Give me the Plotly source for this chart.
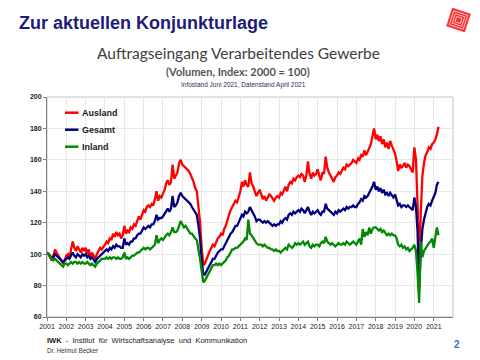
import math
import pandas as pd
import plotly.graph_objects as go

# ---- data (monthly, Jan 2001 .. Apr 2021), index 2000 = 100 ----
ausland = [
    101, 100, 98, 96, 99, 103, 101, 99, 97, 95, 94, 96,          # 2001
    99, 100, 98, 103, 108, 104, 102, 105, 103, 101, 104, 102,     # 2002
    104, 100, 103, 98, 101, 99, 97, 100, 102, 104, 103, 105,      # 2003
    106, 108, 107, 110, 109, 113, 111, 114, 112, 113, 110, 112,   # 2004
    118, 113, 115, 114, 117, 116, 119, 118, 121, 124, 122, 125,   # 2005
    128, 127, 130, 131, 130, 132, 131, 135, 140, 134, 137, 136,   # 2006
    138, 141, 145, 147, 144, 146, 157, 148, 150, 152, 158, 160,   # 2007
    157, 156, 155, 154, 153, 151, 149, 146, 142, 140, 130, 120,   # 2008
    104, 93, 94, 97, 99, 102, 104, 106, 105, 108, 110, 111,       # 2009
    113, 112, 116, 118, 122, 125, 128, 130, 132, 134, 133, 136,   # 2010
    140, 146, 143, 147, 144, 143, 152, 145, 143, 140, 137, 139,   # 2011
    141, 138, 135, 137, 134, 136, 138, 137, 135, 134, 136, 137,   # 2012
    136, 139, 138, 141, 143, 140, 144, 146, 145, 148, 147, 149,   # 2013
    150, 149, 151, 150, 146, 150, 159, 151, 148, 152, 150, 151,   # 2014
    154, 150, 147, 152, 151, 162, 155, 152, 150, 148, 146, 149,   # 2015
    150, 152, 151, 153, 155, 154, 157, 156, 157, 158, 160, 159,   # 2016
    158, 161, 160, 163, 162, 166, 163, 165, 168, 170, 175, 180,   # 2017
    173, 176, 172, 175, 170, 173, 168, 171, 167, 172, 169, 166,   # 2018
    164, 159, 153, 157, 155, 156, 158, 155, 157, 156, 154, 152,   # 2019
    168, 160, 132, 92, 126, 150, 158, 163, 165, 168, 167, 170,    # 2020
    171, 173, 176, 181,                                           # 2021
]
gesamt = [
    101, 100, 99, 97, 98, 100, 99, 98, 97, 96, 95, 96,
    97, 98, 97, 99, 101, 99, 98, 100, 99, 98, 100, 99,
    100, 98, 99, 97, 98, 96, 95, 97, 98, 99, 100, 101,
    102, 103, 102, 104, 103, 105, 104, 106, 105, 105, 104, 104,
    110, 106, 107, 106, 108, 108, 110, 110, 112, 113, 113, 115,
    117, 116, 117, 118, 117, 119, 119, 121, 125, 122, 123, 123,
    124, 126, 128, 129, 127, 129, 137, 130, 131, 133, 137, 139,
    137, 136, 135, 134, 133, 132, 130, 128, 126, 125, 118, 110,
    96, 87, 87, 89, 91, 93, 95, 97, 97, 99, 101, 102,
    103, 103, 105, 107, 109, 111, 113, 114, 116, 118, 118, 120,
    122, 125, 124, 127, 126, 127, 130, 128, 125, 124, 121, 122,
    122, 121, 120, 121, 120, 121, 120, 119, 118, 119, 118, 119,
    119, 121, 120, 122, 123, 122, 125, 126, 125, 127, 126, 127,
    128, 127, 129, 128, 126, 128, 130, 127, 125, 127, 126, 127,
    128, 126, 125, 127, 127, 132, 129, 128, 127, 126, 125, 127,
    126, 128, 127, 128, 129, 128, 130, 129, 130, 130, 131, 130,
    130, 132, 133, 135, 134, 137, 136, 137, 139, 140, 143, 146,
    141, 143, 140, 142, 139, 141, 138, 139, 137, 139, 137, 136,
    138, 135, 131, 132, 130, 131, 131, 130, 131, 130, 129, 128,
    136, 130, 115, 78, 102, 116, 122, 127, 130, 132, 131, 134,
    136, 139, 144, 146,
]
inland = [
    101, 100, 98, 97, 96, 97, 96, 95, 94, 93, 92, 94,
    94, 93, 94, 95, 94, 95, 95, 94, 95, 94, 95, 94,
    94, 95, 94, 93, 94, 93, 92, 94, 95, 96, 97, 97,
    97, 98, 97, 98, 97, 98, 98, 97, 98, 97, 97, 98,
    101, 97, 98, 97, 98, 99, 99, 100, 101, 101, 102, 103,
    104, 103, 104, 104, 103, 104, 105, 106, 112, 107, 109, 110,
    109, 111, 112, 113, 112, 114, 117, 114, 114, 115, 119, 121,
    119, 117, 118, 116, 115, 113, 113, 111, 110, 109, 104, 97,
    89, 82, 83, 85, 87, 89, 91, 93, 93, 94, 93, 94,
    93, 94, 95, 96, 98, 99, 101, 103, 103, 104, 104, 105,
    106, 107, 108, 110, 109, 122, 113, 112, 110, 109, 107, 106,
    106, 106, 105, 106, 105, 104, 104, 103, 103, 102, 103, 102,
    102, 101, 102, 103, 104, 103, 106, 105, 104, 105, 107, 106,
    107, 106, 107, 108, 106, 107, 108, 105, 104, 106, 105, 106,
    106, 105, 107, 108, 107, 111, 108, 107, 106, 107, 106, 105,
    106, 107, 106, 106, 107, 106, 108, 107, 106, 107, 108, 107,
    106, 108, 110, 106, 116, 111, 114, 112, 117, 113, 116, 117,
    117, 116, 115, 116, 114, 115, 113, 112, 113, 112, 113, 112,
    112, 110, 106, 105, 106, 104, 105, 103, 104, 102, 103, 104,
    106, 102, 88, 69, 108, 98, 102, 104, 106, 107, 108, 110,
    104, 110, 117, 112,
]
series_names = ["Ausland", "Gesamt", "Inland"]
series_colors = ["#ff0000", "#00007f", "#008a00"]
y_ticks = [60, 80, 100, 120, 140, 160, 180, 200]

months = pd.date_range("2001-01-01", periods=len(ausland), freq="MS")

W, H = 480, 360
ML, MR, MT, MB = 47, 27, 97, 43
PW, PH = W - ML - MR, H - MT - MB


def px(x):
    return (x - ML) / PW


def py(y):
    return 1 - (y - MT) / PH


fig = go.Figure()
for name, vals, col in zip(series_names, [ausland, gesamt, inland], series_colors):
    fig.add_trace(go.Scatter(x=months, y=vals, mode="lines", name=name,
                             line=dict(color=col, width=2.3), showlegend=False))

shapes = []
annotations = []

# plot frame (light top/right)
shapes.append(dict(type="rect", xref="paper", yref="paper", x0=0, x1=1, y0=0, y1=1,
                   line=dict(color="#c4c4c4", width=1), layer="below"))

# manual legend
for i, (name, col) in enumerate(zip(series_names, series_colors)):
    yy = py(112.7 + i * 17)
    shapes.append(dict(type="line", xref="paper", yref="paper", x0=px(65), x1=px(78.5),
                       y0=yy, y1=yy, line=dict(color=col, width=2.5)))
    annotations.append(dict(text="<b>%s</b>" % name, xref="paper", yref="paper",
                            x=px(80), y=yy, xanchor="left", yanchor="middle", showarrow=False,
                            font=dict(family="Liberation Sans, Arial", size=9, color="#1a1a1a")))

# logo (rotated red square maze-like)
cx, cy, half, ang = 458.5, 20, 9.5, math.radians(18)


def rot_sq(h):
    pts = []
    for dx, dy in [(-h, -h), (h, -h), (h, h), (-h, h)]:
        x = cx + dx * math.cos(ang) - dy * math.sin(ang)
        y = cy + dx * math.sin(ang) + dy * math.cos(ang)
        pts.append((px(x), py(y)))
    return "M " + " L ".join("%f,%f" % p for p in pts) + " Z"


shapes.append(dict(type="path", xref="paper", yref="paper", path=rot_sq(half),
                   fillcolor="#ff2a2a", line=dict(color="#ff2a2a", width=0.5)))
for h in [7.3, 5.0, 2.8]:
    shapes.append(dict(type="path", xref="paper", yref="paper", path=rot_sq(h),
                       line=dict(color="rgba(255,255,255,0.85)", width=0.9)))

# titles
annotations += [
    dict(text="<b>Zur aktuellen Konjunkturlage</b>", xref="paper", yref="paper",
         x=px(17), y=py(23), xanchor="left", yanchor="middle", showarrow=False,
         font=dict(family="Liberation Sans, Arial", size=18, color="#1c1c78")),
    dict(text="Auftragseingang Verarbeitendes Gewerbe", xref="paper", yref="paper",
         x=px(238), y=py(53.5), xanchor="center", yanchor="middle", showarrow=False,
         font=dict(family="Lato", size=15.5, color="#404040")),
    dict(text="<b>(Volumen, Index: 2000 = 100)</b>", xref="paper", yref="paper",
         x=px(238), y=py(71), xanchor="center", yanchor="middle", showarrow=False,
         font=dict(family="Lato", size=11, color="#555555")),
    dict(text="Infostand Juni 2021, Datenstand April 2021", xref="paper", yref="paper",
         x=px(243), y=py(85), xanchor="center", yanchor="middle", showarrow=False,
         font=dict(family="Liberation Sans, Arial", size=6.5, color="#1f2f5f")),
    dict(text="<b>IWK</b>  -  Institut  für  Wirtschaftsanalyse  und  Kommunikation",
         xref="paper", yref="paper", x=px(44.5), y=py(340.5), xanchor="left", yanchor="middle",
         showarrow=False, font=dict(family="Liberation Sans, Arial", size=7.5, color="#1a1a1a")),
    dict(text="Dr. Helmut Becker", xref="paper", yref="paper", x=px(44.5), y=py(350),
         xanchor="left", yanchor="middle", showarrow=False,
         font=dict(family="Liberation Sans, Arial", size=6.3, color="#333333")),
    dict(text="<b>2</b>", xref="paper", yref="paper", x=px(457), y=py(344),
         xanchor="center", yanchor="middle", showarrow=False,
         font=dict(family="Liberation Sans, Arial", size=10, color="#2e74c0")),
]

fig.update_layout(
    width=W, height=H,
    margin=dict(l=ML, r=MR, t=MT, b=MB, pad=0),
    paper_bgcolor="white", plot_bgcolor="white",
    shapes=shapes, annotations=annotations, showlegend=False,
    xaxis=dict(type="date", range=["2001-01-01", "2021-12-31"], dtick="M12",
               tick0="2001-01-01", tickformat="%Y", showgrid=True, gridcolor="#e8e8e8",
               gridwidth=1, showline=True, linecolor="#7f7f7f", linewidth=1,
               ticks="outside", ticklen=3, tickcolor="#7f7f7f",
               tickfont=dict(family="Liberation Sans, Arial", size=7, color="#1a1a1a"),
               zeroline=False, fixedrange=True),
    yaxis=dict(range=[60, 200], tickvals=y_ticks, ticktext=["<b>%d</b>" % v for v in y_ticks],
               showgrid=True, gridcolor="#e8e8e8", gridwidth=1,
               showline=True, linecolor="#7f7f7f", linewidth=1,
               ticks="outside", ticklen=3, tickcolor="#7f7f7f",
               tickfont=dict(family="Liberation Sans, Arial", size=7, color="#1a1a1a"),
               zeroline=False, fixedrange=True),
)

fig.write_html("out.html", config={"displayModeBar": False},
               post_script="document.body.style.margin='0';document.body.style.overflow='hidden';")
